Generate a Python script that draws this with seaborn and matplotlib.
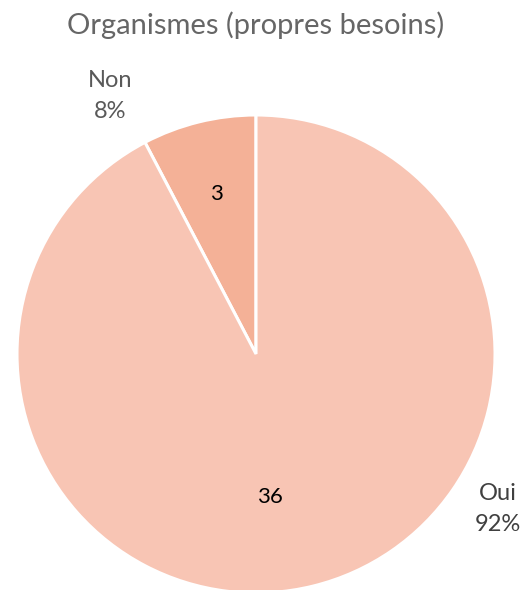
import matplotlib.pyplot as plt
import numpy as np
import seaborn as sns

sns.set_theme(style="white")
plt.rcParams['font.family'] = ['Lato', 'DejaVu Sans']

categories = ["Non", "Oui"]
counts = [3, 36]
colors = ["#F4B197", "#F8C5B4"]
title = "Organismes (propres besoins)"

fig = plt.figure(figsize=(5.25, 5.9), dpi=100)
ax = fig.add_axes([0.0324, -0.0051, 0.9105, 0.8102])

wedges, texts = ax.pie(counts, colors=colors, startangle=90, counterclock=True,
                       wedgeprops=dict(edgecolor="white", linewidth=2.2),
                       labels=[str(c) for c in counts], labeldistance=0.69,
                       textprops=dict(color="black", fontsize=16, ha="center", va="center"))
texts[1].set_position((0.06, -0.6))

total = sum(counts)
pcts = [round(100 * c / total) for c in counts]
# category labels placed outside, like Excel's best fit
outer_pos = [(-0.61, 1.08), (1.01, -0.65)]
for (x, y), cat, p, col in zip(outer_pos, categories, pcts, ["#595959", "#404040"]):
    ax.text(x, y, f"{cat}\n{p}%", ha="center", va="center", fontsize=17,
            color=col, linespacing=1.6)

ax.set_xlim(-1, 1)
ax.set_ylim(-1, 1)
ax.set_aspect("equal")
fig.text(0.487, 0.957, title, ha="center", va="center", fontsize=21,
         color="#666666")

fig.savefig("out.png", dpi=100)
